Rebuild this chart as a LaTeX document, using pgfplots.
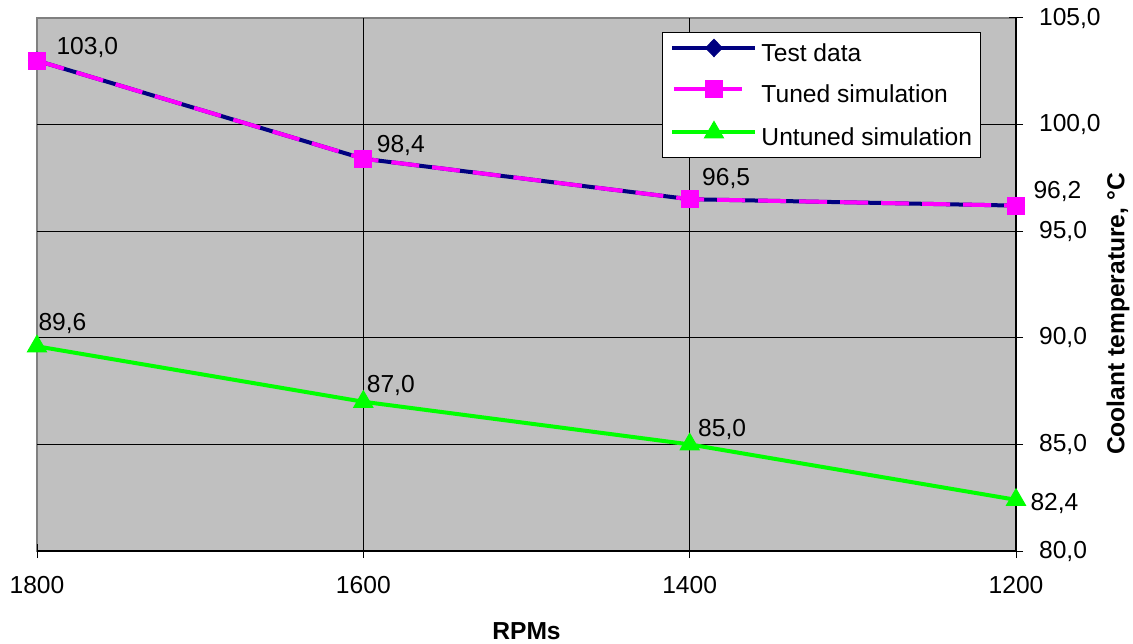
\documentclass[border=0pt]{standalone}
\usepackage{fontspec}
\setmainfont{Liberation Sans}
\usepackage{pgfplots}
\pgfplotsset{compat=1.18}
\usepackage{pgfplotstable}

\definecolor{bggray}{RGB}{192,192,192}
\definecolor{bordergray}{RGB}{128,128,128}
\definecolor{xlnavy}{RGB}{0,0,128}
\definecolor{xlmagenta}{RGB}{255,0,255}
\definecolor{xlgreen}{RGB}{0,255,0}

\newcommand{\chartfont}{\fontsize{12.3}{14.8}\selectfont}

% x: 0=1800, 1=1600, 2=1400, 3=1200 rpm
\pgfplotstableread{
x rpm temp dx dy
0 1800 103.0 9.5 3.3
1 1600 98.4 6.5 3.2
2 1400 96.5 6.0 7.1
3 1200 96.2 8.5 3.8
}\testtab

\pgfplotstableread{
x rpm temp dx dy
0 1800 103.0 9.5 3.3
1 1600 98.4 6.5 3.2
2 1400 96.5 6.0 7.1
3 1200 96.2 8.5 3.8
}\tunedtab

\pgfplotstableread{
x rpm temp dx dy
0 1800 89.6 0.5 8.15
1 1600 87.0 1.5 4.4
2 1400 85.0 4.0 3.8
3 1200 82.4 7.0 -5.1
}\untunedtab

\begin{document}
\begin{tikzpicture}
\useasboundingbox (0,0) rectangle (566.5pt,321.5pt);
\begin{axis}[
  at={(18.5pt,46pt)}, anchor=south west,
  scale only axis, width=489.5pt, height=266.5pt,
  xmin=0, xmax=3, ymin=80, ymax=105,
  clip=false,
  axis x line=bottom, axis y line=right,
  axis line style={-, black, line width=0.8pt},
  every outer x axis line/.append style={-},
  every outer y axis line/.append style={-},
  axis background/.style={fill=bggray, draw=bordergray, line width=0.75pt},
  xtick={0,1,2,3}, xticklabels={1800,1600,1400,1200},
  ytick={80,85,90,95,100,105},
  extra x ticks={1,2}, extra x tick labels={},
  extra x tick style={grid=major, major tick length=0pt},
  extra y ticks={85,90,95,100}, extra y tick labels={},
  extra y tick style={grid=major, major tick length=0pt},
  major grid style={black, line width=0.5pt},
  tick align=center, major tick length=7pt,
  tick style={black, line width=0.5pt},
  tick label style={font=\chartfont},
  xticklabel style={yshift=-5.5pt},
  yticklabel style={xshift=4.5pt, /pgf/number format/.cd, fixed, fixed zerofill, precision=1, use comma, assume math mode=true},
  scaled y ticks=false,
  xlabel={\textbf{RPMs}},
  every axis x label/.style={at={(rel axis cs:0.5,0)}, anchor=base, yshift=-44pt, font=\chartfont},
  ylabel={\textbf{Coolant temperature, °C}},
  every axis y label/.style={at={(rel axis cs:1,0.4447)}, xshift=51pt, rotate=90, anchor=center, font=\chartfont},
  legend style={at={(rel axis cs:0.6384,0.974)}, anchor=north west, draw=black, line width=0.5pt, fill=white,
    font=\chartfont, inner xsep=4pt, inner ysep=3.5pt, row sep=7pt, column sep=2pt,
    nodes={inner sep=0pt, text height=9pt, text depth=2.5pt}},
  legend cell align=left,
  legend image code/.code={\draw[mark repeat=2,mark phase=2] plot coordinates {(0pt,3.5pt) (20.75pt,3.5pt) (41.5pt,3.5pt)};},
  nodes near coords={\pgfmathprintnumber[fixed,fixed zerofill,precision=1,use comma,assume math mode=true]{\pgfplotspointmeta}},
  every node near coord/.append style={anchor=base west, inner sep=0pt, text=black, font=\chartfont, xshift=\labdx pt, yshift=\labdy pt},
]
\addplot[xlnavy, line width=2pt, mark=diamond*, mark size=4.3pt,
  mark options={solid, line width=0.5pt, xscale=1.3}, nodes near coords={}, 
  visualization depends on={\thisrow{dx} \as \labdx}, visualization depends on={\thisrow{dy} \as \labdy}]
  table[x=x, y=temp] {\testtab};
\addlegendentry{Test data}

\addplot[xlmagenta, line width=2pt, dash pattern=on 14pt off 6.5pt, mark=square*, mark size=4.25pt,
  mark options={solid, line width=0.5pt}, point meta=y,
  legend image post style={solid, shorten <=1pt, shorten >=6.5pt},
  visualization depends on={\thisrow{dx} \as \labdx}, visualization depends on={\thisrow{dy} \as \labdy}]
  table[x=x, y=temp] {\tunedtab};
\addlegendentry{Tuned simulation}

\addplot[xlgreen, line width=2pt, mark=triangle*, mark size=5.5pt,
  mark options={solid, line width=0.5pt}, point meta=y,
  visualization depends on={\thisrow{dx} \as \labdx}, visualization depends on={\thisrow{dy} \as \labdy}]
  table[x=x, y=temp] {\untunedtab};
\addlegendentry{Untuned simulation}
\end{axis}
\end{tikzpicture}
\end{document}
